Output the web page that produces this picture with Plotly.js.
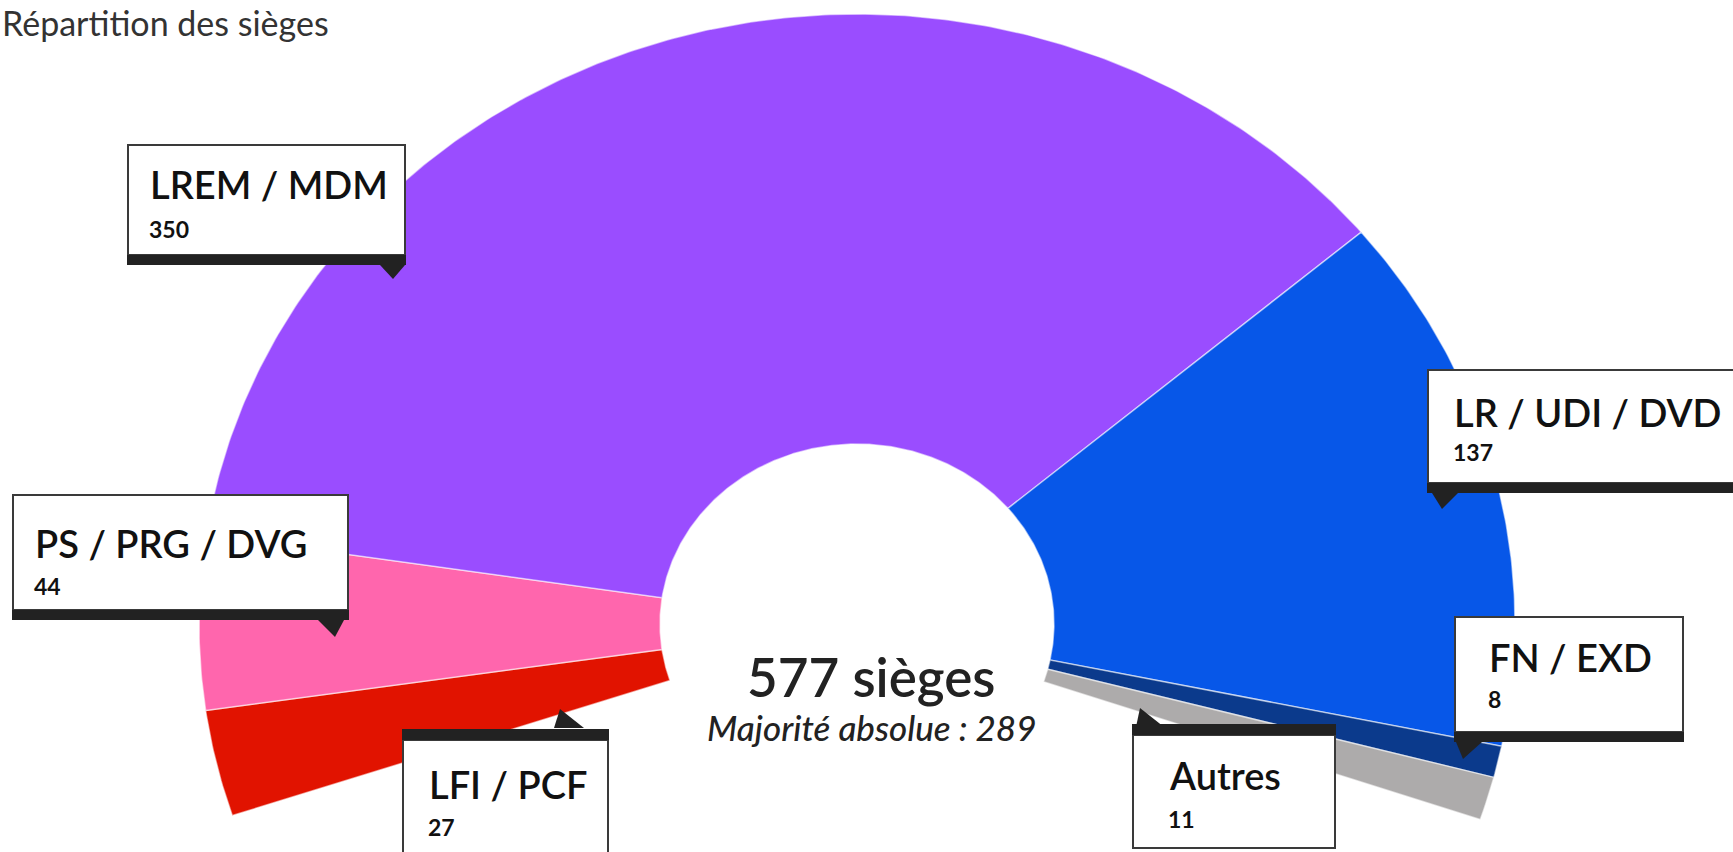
<!DOCTYPE html>
<html>
<head>
<meta charset="utf-8">
<script src="https://cdn.plot.ly/plotly-3.0.1.min.js"></script>
<style>html,body{margin:0;padding:0;background:#fff;}#chart{width:1733px;height:852px;}</style>
</head>
<body>
<div id="chart"></div>
<script>
// ---- data ----
const parties = ["LFI / PCF", "PS / PRG / DVG", "LREM / MDM", "LR / UDI / DVD", "FN / EXD", "Autres"];
const seats = [27, 44, 350, 137, 8, 11];
const colors = ["#e11300", "#ff66ad", "#9a4dff", "#0757e8", "#0b3a8c", "#adabab"];
const totalLabel = "577 sièges";
const majorityLabel = "Majorité absolue : 289";
const chartTitle = "Répartition des sièges";

// ---- geometry (layout, pixel axes) ----
const W = 1733, H = 852;
const CX = 857, CY = 624;
const RX = 658, RY = 610;      // outer ellipse
const IRX = 197, IRY = 180;    // inner hole
const START = 198.3, SPAN = 217; // degrees, clockwise

const total = seats.reduce((a, b) => a + b, 0);
const traces = [];
let cum = 0;
seats.forEach((v, i) => {
  const a0 = START - cum / total * SPAN;
  const a1 = START - (cum + v) / total * SPAN;
  cum += v;
  const n = Math.max(8, Math.ceil(Math.abs(a0 - a1) * 2));
  const xs = [], ys = [];
  for (let k = 0; k <= n; k++) {
    const a = (a0 + (a1 - a0) * k / n) * Math.PI / 180;
    xs.push(CX + RX * Math.cos(a)); ys.push(CY - RY * Math.sin(a));
  }
  for (let k = n; k >= 0; k--) {
    const a = (a0 + (a1 - a0) * k / n) * Math.PI / 180;
    xs.push(CX + IRX * Math.cos(a)); ys.push(CY - IRY * Math.sin(a));
  }
  xs.push(xs[0]); ys.push(ys[0]);
  traces.push({
    type: "scatter", mode: "lines", x: xs, y: ys, fill: "toself",
    fillcolor: colors[i], line: {color: "rgba(255,255,255,0.55)", width: 1.5},
    name: parties[i], hoverinfo: "skip", showlegend: false
  });
});

// ---- label boxes ----
const boxes = [
  {i: 2, x0: 128, y0: 145, x1: 405, y1: 255, bar: "bottom", tail: [[380,265],[405,265],[393,279]], tx: 148, ny: 184, vy: 229},
  {i: 1, x0: 13,  y0: 495, x1: 348, y1: 610, bar: "bottom", tail: [[318,620],[344,620],[335,637]], tx: 33, ny: 543, vy: 586},
  {i: 0, x0: 403, y0: 740, x1: 608, y1: 860, bar: "top", tail: [[554,728],[584,728],[560,709]], tx: 427, ny: 784, vy: 827},
  {i: 5, x0: 1133, y0: 735, x1: 1335, y1: 848, bar: "top", tail: [[1136,727],[1164,727],[1140,708]], tx: 1167, ny: 775, vy: 819},
  {i: 4, x0: 1455, y0: 617, x1: 1683, y1: 732, bar: "bottom", tail: [[1456,742],[1482,742],[1463,759]], tx: 1487, ny: 657, vy: 699},
  {i: 3, x0: 1428, y0: 370, x1: 1745, y1: 483, bar: "bottom", tail: [[1432,493],[1458,493],[1442,509]], tx: 1452, ny: 412, vy: 452}
];
const shapes = [], annotations = [];
const FONT = "Lato, 'Open Sans', sans-serif";
boxes.forEach(b => {
  shapes.push({type: "rect", xref: "x", yref: "y", x0: b.x0, x1: b.x1, y0: b.y0, y1: b.y1,
    fillcolor: "#ffffff", line: {color: "#3a3a3a", width: 2}, layer: "above"});
  const by0 = b.bar === "bottom" ? b.y1 : b.y0 - 11;
  const by1 = b.bar === "bottom" ? b.y1 + 10 : b.y0;
  shapes.push({type: "rect", xref: "x", yref: "y", x0: b.x0 - 1, x1: b.x1 + 1, y0: by0, y1: by1,
    fillcolor: "#222222", line: {width: 0}, layer: "above"});
  const t = b.tail;
  shapes.push({type: "path", xref: "x", yref: "y",
    path: `M${t[0][0]},${t[0][1]} L${t[1][0]},${t[1][1]} L${t[2][0]},${t[2][1]} Z`,
    fillcolor: "#222222", line: {width: 0}, layer: "above"});
  annotations.push({xref: "x", yref: "y", x: b.tx, y: b.ny, xanchor: "left", yanchor: "middle",
    text: parties[b.i], showarrow: false, font: {family: FONT, size: 38, color: "#111", weight: 600}});
  annotations.push({xref: "x", yref: "y", x: b.tx - 1, y: b.vy, xanchor: "left", yanchor: "middle",
    text: String(seats[b.i]), showarrow: false, font: {family: FONT, size: 23, color: "#111", weight: 700}});
});
annotations.push({xref: "x", yref: "y", x: 871, y: 676, xanchor: "center", yanchor: "middle",
  text: totalLabel, showarrow: false, font: {family: FONT, size: 53, color: "#222", weight: 600}});
annotations.push({xref: "x", yref: "y", x: 871, y: 727, xanchor: "center", yanchor: "middle",
  text: majorityLabel, showarrow: false, font: {family: FONT, size: 35, color: "#222", style: "italic", weight: 500}});
annotations.push({xref: "paper", yref: "paper", x: 0, y: 1, xanchor: "left", yanchor: "top",
  text: chartTitle, showarrow: false, font: {family: FONT, size: 34, color: "#333"}});

const layout = {
  width: W, height: H,
  margin: {l: 0, r: 0, t: 0, b: 0},
  paper_bgcolor: "#ffffff", plot_bgcolor: "#ffffff",
  xaxis: {range: [0, W], visible: false, fixedrange: true},
  yaxis: {range: [H, 0], visible: false, fixedrange: true},
  shapes: shapes, annotations: annotations, showlegend: false
};
Plotly.newPlot("chart", traces, layout, {displayModeBar: false, staticPlot: true});
</script>
</body>
</html>
